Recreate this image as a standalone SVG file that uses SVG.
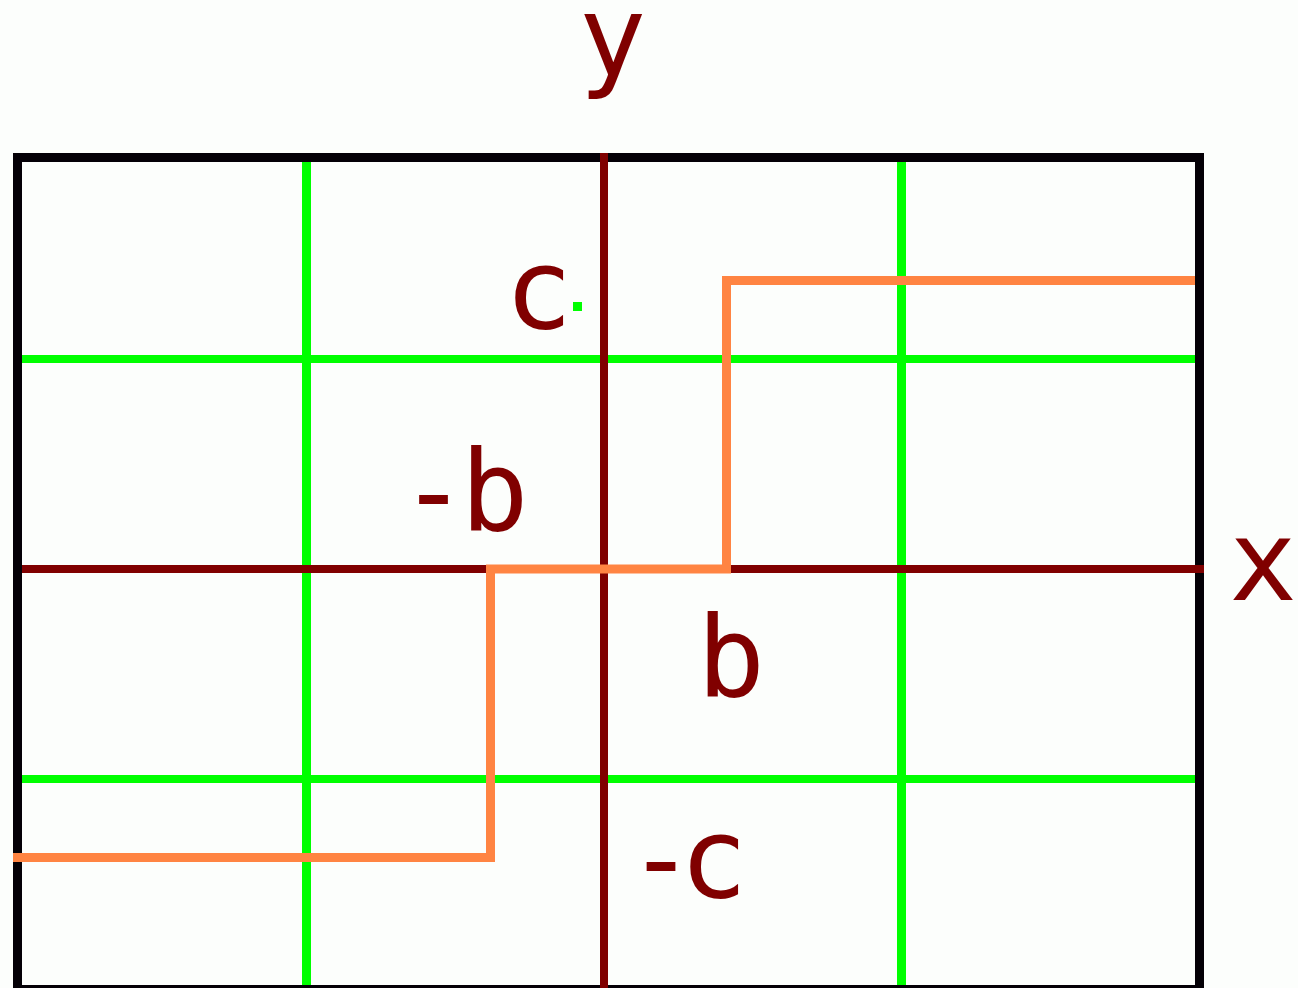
<svg xmlns="http://www.w3.org/2000/svg" width="1298" height="988" viewBox="0 0 1298 988">
<style>
.bg{fill:#fcfefc}
.frame{fill:none;stroke:#040006;stroke-width:9}
.grid{stroke:#00ff00;fill:none}
.axis{stroke:#800000;stroke-width:8;fill:none}
.path{stroke:#ff8442;stroke-width:9;fill:none;stroke-linejoin:miter;stroke-linecap:butt}
.lbl{font-family:"DejaVu Sans Mono","Liberation Mono",monospace;font-size:113px;fill:#800000;text-anchor:middle}
.lbs{font-family:"DejaVu Sans Mono","Liberation Mono",monospace;font-size:113px;fill:#800000;text-anchor:start}
</style>
<rect class="bg" x="0" y="0" width="1298" height="988"/>
<g id="frame">
<rect class="frame" x="17.5" y="157.5" width="1182" height="832"/>
</g>
<g id="grid">
<line class="grid" x1="306.5" y1="162" x2="306.5" y2="985" stroke-width="9"/>
<line class="grid" x1="901.5" y1="162" x2="901.5" y2="985" stroke-width="9"/>
<line class="grid" x1="22" y1="359" x2="1195" y2="359" stroke-width="8"/>
<line class="grid" x1="22" y1="779" x2="1195" y2="779" stroke-width="8"/>
</g>
<g id="axes">
<line class="axis" x1="604" y1="153" x2="604" y2="988"/>
<line class="axis" x1="22" y1="569" x2="1204" y2="569"/>
</g>
<g id="connectors">
<polyline class="path" points="13,857.5 490.5,857.5 490.5,569 726.5,569 726.5,280.5 1195,280.5"/>
</g>
<g id="point">
<rect x="573" y="302" width="9" height="9" fill="#00ff00"/>
</g>
<g id="labels">
<text id="label-y" class="lbl" x="612.5" y="76">y</text>
<text id="label-x" class="lbl" x="1263" y="600">x</text>
<text id="label-c" class="lbl" x="538.5" y="328">c</text>
<text id="label-neg-b" class="lbs" x="399.5" y="530" letter-spacing="-7">-b</text>
<text id="label-b" class="lbl" x="731" y="696">b</text>
<text id="label-neg-c" class="lbs" x="627" y="897" letter-spacing="-15.5">-c</text>
</g>
</svg>
